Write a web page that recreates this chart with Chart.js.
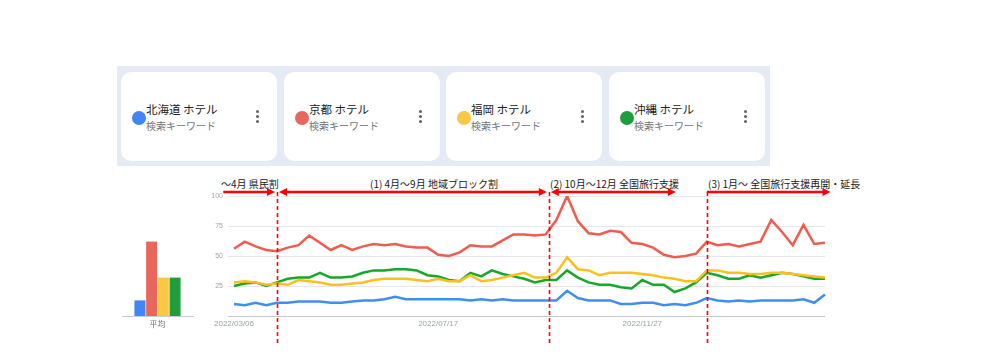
<!DOCTYPE html>
<html>
<head>
<meta charset="utf-8">
<script src="https://cdn.jsdelivr.net/npm/chart.js@4/dist/chart.umd.min.js"></script>
<style>
  body { margin: 0; background: #fff; font-family: "Noto Sans CJK JP", "Noto Sans", sans-serif; }
  #page { position: relative; width: 982px; height: 360px; overflow: hidden; }
  #panel { position: absolute; left: 117px; top: 66px; width: 653px; height: 100px; background: #e5ebf5; }
  .card { position: absolute; top: 72px; width: 156px; height: 89px; background: #fff; border-radius: 10px; }
  .card .dot { position: absolute; left: 11px; top: 39px; width: 14px; height: 14px; border-radius: 50%; }
  .card .title { position: absolute; left: 25px; top: 29px; font-size: 11.5px; color: #202124; white-space: nowrap; }
  .card .sub { position: absolute; left: 25px; top: 46px; font-size: 10px; color: #70757a; white-space: nowrap; }
  .card .menu { position: absolute; left: 135px; top: 38px; width: 3px; height: 3px; border-radius: 50%; background: #5f6368;
                box-shadow: 0 5px 0 #5f6368, 0 10px 0 #5f6368; }
  .note { position: absolute; top: 176px; font-size: 10px; color: #1a1a1a; white-space: nowrap; }
  canvas { position: absolute; }
</style>
</head>
<body>
<div id="page">
  <div id="panel"></div>
  <div id="cards"></div>
  <div id="notes"></div>
  <canvas id="avgChart" width="90" height="145" style="left:115px; top:190px; width:90px; height:145px;"></canvas>
  <canvas id="trendChart" width="660" height="170" style="left:190px; top:180px; width:660px; height:170px;"></canvas>
</div>
<script>
// weekly data, 2022/03/06 - 2023/03/26
const weeks = [
  "2022/03/06","2022/03/13","2022/03/20","2022/03/27","2022/04/03","2022/04/10","2022/04/17","2022/04/24",
  "2022/05/01","2022/05/08","2022/05/15","2022/05/22","2022/05/29","2022/06/05","2022/06/12","2022/06/19",
  "2022/06/26","2022/07/03","2022/07/10","2022/07/17","2022/07/24","2022/07/31","2022/08/07","2022/08/14",
  "2022/08/21","2022/08/28","2022/09/04","2022/09/11","2022/09/18","2022/09/25","2022/10/02","2022/10/09",
  "2022/10/16","2022/10/23","2022/10/30","2022/11/06","2022/11/13","2022/11/20","2022/11/27","2022/12/04",
  "2022/12/11","2022/12/18","2022/12/25","2023/01/01","2023/01/08","2023/01/15","2023/01/22","2023/01/29",
  "2023/02/05","2023/02/12","2023/02/19","2023/02/26","2023/03/05","2023/03/12","2023/03/19","2023/03/26"
];
const tickDates = ["2022/03/06", "2022/07/17", "2022/11/27"];
const yTicks = [25, 50, 75, 100];

const keywords = ["北海道 ホテル", "京都 ホテル", "福岡 ホテル", "沖縄 ホテル"];
const hokkaido = [10,9,11,9,11,11,12,12,12,11, 11,12,13,13,14,16,14,14,14,14,
                  14,14,13,14,13,14,13,13,13,13, 13,21,15,13,13,13,10,10,11,11,
                  9,10,9,11,15,13,12,13,12,13, 13,13,13,14,11,18];
const kyoto    = [56,62,58,55,54,57,59,67,61,55, 59,55,58,60,59,60,58,57,57,51,
                  50,53,59,58,58,63,68,68,67,68, 80,100,79,69,68,71,70,61,60,57,
                  51,49,50,52,62,59,60,58,60,62, 80,70,59,76,60,61];
const fukuoka  = [28,29,28,26,27,26,30,29,28,26, 26,27,28,30,31,31,31,30,29,31,
                  29,29,34,29,30,32,34,36,32,32, 36,49,39,38,34,36,36,36,35,34,
                  32,31,29,29,38,38,36,36,35,35, 36,36,35,34,33,32];
const okinawa  = [25,27,28,25,28,31,32,32,36,32, 32,33,36,38,38,39,39,38,34,33,
                  30,29,36,33,38,35,33,31,28,30, 30,38,32,28,26,26,24,23,30,26,
                  26,20,23,28,36,34,31,31,34,32, 34,36,35,33,31,31];
const averages = [13, 62, 32, 32];
const avgLabel = "平均";

// campaign periods (in week index units)
const markers = [4, 29.3, 44];
const periods = [[-1, 4], [4, 29.3], [29.3, 41.3], [44, 55.7]];
const periodNames = ["〜4月 県民割", "(1) 4月〜9月 地域ブロック割", "(2) 10月〜12月 全国旅行支援", "(3) 1月〜 全国旅行支援再開・延長"];

const lineColors = ["#3f8ef3", "#f25b4d", "#fcc01e", "#16a82a"];
const dotColors = ["#4285f4", "#e8665c", "#fbc845", "#1f9e3e"];
const series = [hokkaido, kyoto, fukuoka, okinawa];

// keyword cards
const cardLefts = [121, 284, 446, 609];
const cards = document.getElementById("cards");
keywords.forEach((k, i) => {
  const c = document.createElement("div");
  c.className = "card";
  c.style.left = cardLefts[i] + "px";
  c.innerHTML = `<div class="dot" style="background:${dotColors[i]}"></div>
    <div class="title">${k}</div><div class="sub">検索キーワード</div><div class="menu"></div>`;
  cards.appendChild(c);
});

// period labels
const noteLefts = [221, 370, 550, 708];
const notes = document.getElementById("notes");
periodNames.forEach((t, i) => {
  const d = document.createElement("div");
  d.className = "note";
  d.style.left = noteLefts[i] + "px";
  d.textContent = t;
  notes.appendChild(d);
});

const periodPlugin = {
  id: "periods",
  afterDatasetsDraw(chart) {
    const ctx = chart.ctx;
    const xs = chart.scales.x;
    const top = chart.chartArea.top - 4;
    ctx.save();
    ctx.strokeStyle = "#ff0000";
    ctx.fillStyle = "#ff0000";
    // dashed dividers
    ctx.lineWidth = 1.6;
    ctx.setLineDash([4, 3]);
    markers.forEach(m => {
      const x = Math.round(xs.getPixelForValue(m)) + 0.5;
      ctx.beginPath();
      ctx.moveTo(x, top);
      ctx.lineTo(x, chart.height - 5);
      ctx.stroke();
    });
    ctx.setLineDash([]);
    // arrows
    ctx.lineWidth = 2.5;
    periods.forEach(([a, b]) => {
      let x1 = xs.getPixelForValue(a);
      let x2 = xs.getPixelForValue(b);
      const leftHead = markers.includes(a) && a !== 44;
      if (leftHead) x1 += 2;
      x2 -= 2;
      ctx.beginPath();
      ctx.moveTo(leftHead ? x1 + 7 : x1, top);
      ctx.lineTo(x2 - 7, top);
      ctx.stroke();
      ctx.beginPath();
      ctx.moveTo(x2, top); ctx.lineTo(x2 - 8, top - 4); ctx.lineTo(x2 - 8, top + 4); ctx.closePath();
      ctx.fill();
      if (leftHead) {
        ctx.beginPath();
        ctx.moveTo(x1, top); ctx.lineTo(x1 + 8, top - 4); ctx.lineTo(x1 + 8, top + 4); ctx.closePath();
        ctx.fill();
      }
    });
    ctx.restore();
  }
};

new Chart(document.getElementById("trendChart"), {
  type: "line",
  data: {
    labels: weeks,
    datasets: series.map((s, i) => ({
      label: keywords[i],
      data: s,
      borderColor: lineColors[i],
      backgroundColor: lineColors[i],
      borderWidth: 2.5,
      pointRadius: 0,
      tension: 0
    }))
  },
  options: {
    responsive: false,
    animation: false,
    layout: { padding: { left: 4, right: 25, top: 16, bottom: 0 } },
    plugins: { legend: { display: false }, tooltip: { enabled: false } },
    scales: {
      x: {
        grid: { display: false, drawTicks: false },
        border: { display: false },
        ticks: {
          autoSkip: false, maxRotation: 0, padding: 3,
          color: "#9aa0a6", font: { size: 8, family: "Liberation Sans, Arial, sans-serif" },
          callback: (v, i) => tickDates.includes(weeks[i]) ? weeks[i] : ""
        },
        afterFit: s => { s.height = 34; }
      },
      y: {
        min: 0, max: 100,
        afterBuildTicks: s => { s.ticks = [0].concat(yTicks).map(v => ({ value: v })); },
        ticks: {
          padding: 5, color: "#a0a4a8", font: { size: 7, family: "Liberation Sans, Arial, sans-serif" },
          callback: v => v === 0 ? "" : v
        },
        grid: { tickLength: 6, lineWidth: 1, color: c => c.tick.value === 0 ? "#c4c7cb" : "#e6e6e6" },
        border: { display: false },
        afterFit: s => { s.width = 40; }
      }
    }
  },
  plugins: [periodPlugin]
});

new Chart(document.getElementById("avgChart"), {
  type: "bar",
  data: {
    labels: [avgLabel],
    datasets: averages.map((v, i) => ({
      label: keywords[i],
      data: [v],
      backgroundColor: dotColors[i],
      barPercentage: 0.94,
      categoryPercentage: 0.66
    }))
  },
  options: {
    responsive: false,
    animation: false,
    layout: { padding: { left: 7, right: 12, top: 6, bottom: 0 } },
    plugins: { legend: { display: false }, tooltip: { enabled: false } },
    scales: {
      x: {
        grid: { display: false, drawTicks: false },
        border: { display: true, color: "#c6ccd4" },
        ticks: { padding: 3, color: "#70757a", font: { size: 8, family: "Noto Sans CJK JP" } },
        afterFit: s => { s.height = 19; }
      },
      y: { display: false, min: 0, max: 100 }
    }
  }
});
</script>
</body>
</html>
